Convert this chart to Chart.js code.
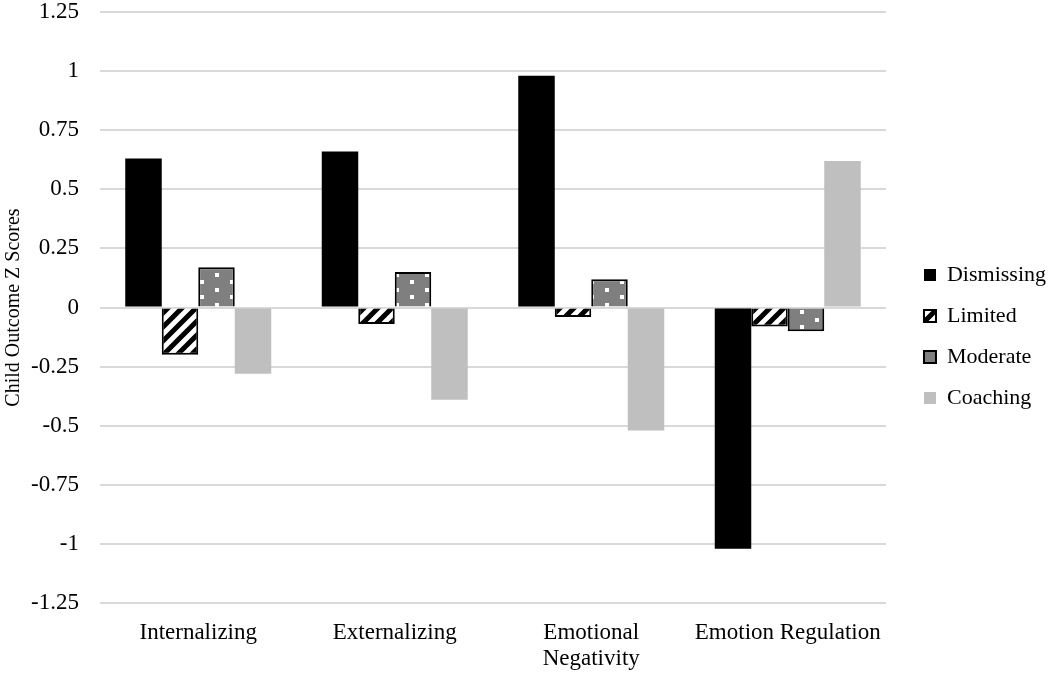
<!DOCTYPE html>
<html>
<head>
<meta charset="utf-8">
<script src="https://cdn.jsdelivr.net/npm/chart.js@4.4.0/dist/chart.umd.min.js"></script>
<style>
  html, body { margin: 0; padding: 0; background: #fff; }
  #wrap { width: 1050px; height: 673px; }
</style>
</head>
<body>
<div id="wrap"><canvas id="chart"></canvas></div>
<script>
// data
const categories = ['Internalizing', 'Externalizing', ['Emotional', 'Negativity'], 'Emotion Regulation'];
const dismissing = [0.63, 0.66, 0.98, -1.02];
const limited = [-0.20, -0.07, -0.04, -0.08];
const moderate = [0.17, 0.15, 0.12, -0.10];
const coaching = [-0.28, -0.39, -0.52, 0.62];
const yTicks = [-1.25, -1, -0.75, -0.5, -0.25, 0, 0.25, 0.5, 0.75, 1, 1.25];

// diagonal hatch for "Limited"
function stripes() {
    const c = document.createElement('canvas');
    c.width = 14; c.height = 14;
    const g = c.getContext('2d');
    g.fillStyle = '#fff';
    g.fillRect(0, 0, 14, 14);
    g.strokeStyle = '#000';
    g.lineWidth = 5;
    g.beginPath();
    for (let k = -14; k <= 28; k += 14) {
        g.moveTo(k - 3, 17);
        g.lineTo(k + 17, -3);
    }
    g.stroke();
    return g.createPattern(c, 'repeat');
}
// grey with white dots for "Moderate"
function dots() {
    const c = document.createElement('canvas');
    c.width = 30; c.height = 15;
    const g = c.getContext('2d');
    g.fillStyle = '#7f7f7f';
    g.fillRect(0, 0, 30, 15);
    g.fillStyle = '#fff';
    g.fillRect(5, 3, 4, 4);
    g.fillRect(20, 10, 4, 4);
    return g.createPattern(c, 'repeat');
}

Chart.defaults.font.family = '"Liberation Serif", "Times New Roman", serif';
Chart.defaults.color = '#000';

const ctx = document.getElementById('chart').getContext('2d');
const chart = new Chart(ctx, {
    type: 'bar',
    data: {
        labels: categories,
        datasets: [
            { label: 'Dismissing', data: dismissing, backgroundColor: '#000', borderWidth: 0 },
            { label: 'Limited', data: limited, backgroundColor: stripes(), borderColor: '#000', borderWidth: 2 },
            { label: 'Moderate', data: moderate, backgroundColor: dots(), borderColor: '#000', borderWidth: 2 },
            { label: 'Coaching', data: coaching, backgroundColor: '#bfbfbf', borderWidth: 0 },
        ],
    },
    options: {
        responsive: true,
        maintainAspectRatio: false,
        animation: false,
        layout: { padding: { top: 0, right: -6, left: 0, bottom: 0 } },
        datasets: { bar: { categoryPercentage: 0.743, barPercentage: 1 } },
        plugins: {
            tooltip: { enabled: false },
            legend: {
                position: 'right',
                labels: {
                    font: { size: 22 },
                    boxWidth: 12,
                    boxHeight: 12,
                    padding: 19,
                    useBorderRadius: false,
                },
            },
        },
        scales: {
            x: {
                grid: { display: false },
                border: { display: false },
                ticks: { font: { size: 23, lineHeight: 1.13 }, maxRotation: 0, autoSkip: false, padding: 9 },
                afterFit: a => { a.height = 70; a.paddingLeft = 0; a.paddingRight = 0; },
            },
            y: {
                min: -1.25,
                max: 1.25,
                afterBuildTicks: axis => { axis.ticks = yTicks.map(v => ({ value: v })); },
                grid: { color: '#d9d9d9', lineWidth: 2, drawTicks: false },
                border: { display: false },
                ticks: { font: { size: 23 }, padding: 21, callback: v => String(v) },
                title: { display: true, text: 'Child Outcome Z Scores', font: { size: 20 }, padding: 2 },
                afterFit: a => { a.width = 100; a.paddingTop = 12; a.paddingBottom = 0; },
            },
            // empty spacer between plot and legend
            gap: {
                type: 'linear',
                position: 'right',
                grid: { display: false },
                border: { display: false },
                ticks: { display: false },
                afterFit: a => { a.width = Math.max(0, 170 - a.chart.legend.width); },
            },
        },
    },
});
</script>
</body>
</html>
